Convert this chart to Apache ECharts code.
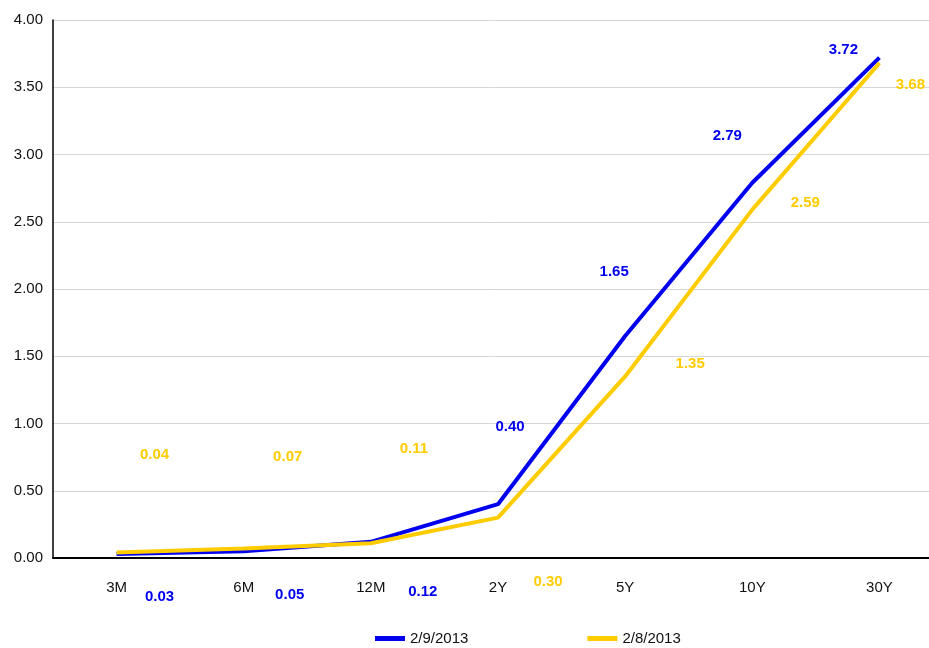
<!DOCTYPE html>
<html>
<head>
<meta charset="utf-8">
<script src="https://cdn.jsdelivr.net/npm/echarts@6/dist/echarts.min.js"></script>
<style>
  html, body { margin: 0; padding: 0; background: #fff; }
  #chart { width: 929px; height: 648px; }
</style>
</head>
<body>
<div id="chart"></div>
<script>
const categories = ["3M", "6M", "12M", "2Y", "5Y", "10Y", "30Y"];
const seriesNames = ["2/9/2013", "2/8/2013"];
const yields0209 = [0.03, 0.05, 0.12, 0.40, 1.65, 2.79, 3.72];
const yields0208 = [0.04, 0.07, 0.11, 0.30, 1.35, 2.59, 3.68];

// where each value label sits relative to its point (px)
const blueOffsets = [[43, 43], [46, 44], [52, 50], [12, -77], [-11, -64], [-25, -47], [-36, -8]];
const goldOffsets = [[38, -98], [44, -92], [43, -94], [50, 64], [65, -13], [53, -7], [31, 22]];

const FONT = "'Liberation Sans', Arial, sans-serif";

const withLabels = (values, offsets) =>
  values.map((v, i) => ({ value: v, label: { offset: offsets[i] } }));

const makeSeries = (name, values, offsets, color) => ({
  name: name,
  type: "line",
  data: withLabels(values, offsets),
  symbol: "circle",
  symbolSize: 0,
  itemStyle: { color: color },
  lineStyle: { color: color, width: 4 },
  label: {
    show: true,
    position: "inside",
    color: color,
    fontFamily: FONT,
    fontWeight: "bold",
    fontSize: 15,
    formatter: (p) => p.value.toFixed(2),
  },
  emphasis: { disabled: true },
  animation: false,
});

const option = {
  backgroundColor: "#fff",
  grid: { left: 53, right: -14, top: 20, bottom: 90, outerBoundsMode: "none" },
  legend: {
    left: 370,
    top: 626,
    itemWidth: 30,
    itemHeight: 5,
    itemGap: 119,
    icon: "rect",
    textStyle: { fontFamily: FONT, fontSize: 15, color: "#111" },
    data: seriesNames,
  },
  xAxis: {
    type: "category",
    data: categories,
    boundaryGap: true,
    axisLine: { lineStyle: { color: "#000", width: 2 } },
    axisTick: { show: false },
    axisLabel: { fontFamily: FONT, fontSize: 15, color: "#111", margin: 22 },
  },
  yAxis: {
    type: "value",
    min: 0,
    max: 4,
    interval: 0.5,
    axisLine: { show: true, lineStyle: { color: "#000", width: 1.5 } },
    axisTick: { show: false },
    axisLabel: {
      fontFamily: FONT,
      fontSize: 15,
      color: "#111",
      margin: 10,
      formatter: (v) => v.toFixed(2),
    },
    splitLine: { lineStyle: { color: "#d6d6d6", width: 1 } },
  },
  series: [
    makeSeries(seriesNames[0], yields0209, blueOffsets, "#0000ee"),
    makeSeries(seriesNames[1], yields0208, goldOffsets, "#ffcc00"),
  ],
};

const myChart = echarts.init(document.getElementById("chart"));
myChart.setOption(option);
</script>
</body>
</html>
